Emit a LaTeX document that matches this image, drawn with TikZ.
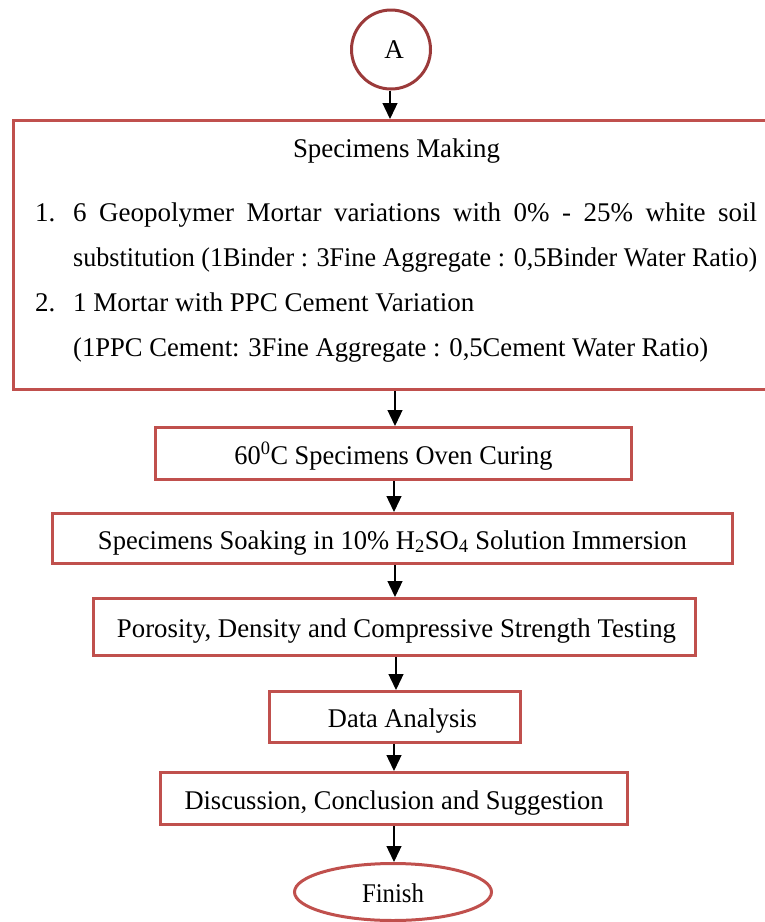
\documentclass[tikz,border=0pt]{standalone}
\usepackage{fontspec}
\setmainfont{Liberation Serif}
\usepackage{graphicx}
\usetikzlibrary{arrows.meta,shapes.geometric}
\definecolor{boxred}{HTML}{C0504D}
\definecolor{circred}{HTML}{9B3A3A}
\newcommand{\fitw}[2]{\resizebox{#1}{\height}{#2}}
\begin{document}
\begin{tikzpicture}[x=1pt,y=-1pt,
  every node/.style={font=\fontsize{27}{31}\selectfont, inner sep=0pt},
  stepbox/.style={draw=boxred, line width=3pt, rectangle, text height=21pt, text depth=0pt, align=center},
  endbox/.style={draw=boxred, line width=3pt, ellipse, text height=21pt, text depth=0pt},
  connbox/.style={draw=circred, line width=3pt, circle},
  arr/.style={-{Triangle[length=16pt,width=15pt]}, line width=1.3pt, black},
  txt/.style={anchor=base west},
  ctxt/.style={anchor=base}]
\useasboundingbox (0,0) rectangle (765,922);
\clip (0,0) rectangle (765,922);

% connector circle
\node[connbox, minimum size=79pt] (A) at (391,49.5) {\hspace*{6pt}A};

% big box
\node[stepbox, minimum width=776.5pt, minimum height=269pt] (big) at (401.75,255) {};
\node[ctxt] (t0) at (396.5,157) {\fitw{207pt}{Specimens Making}};
\node[txt] (n1) at (35,221) {1.};
\node[txt] (l1) at (73,221) {\makebox[684pt][s]{6 Geopolymer Mortar variations with 0\% - 25\% white soil}};
\node[txt] (l2) at (73,266) {\fitw{684pt}{substitution (1Binder : 3Fine Aggregate : 0,5Binder Water Ratio)}};
\node[txt] (n2) at (35,311) {2.};
\node[txt] (l3) at (73,311) {\fitw{401pt}{1 Mortar with PPC Cement Variation}};
\node[txt] (l4) at (73,356) {\fitw{635pt}{(1PPC Cement: 3Fine Aggregate : 0,5Cement Water Ratio)}};

% process boxes
\node[stepbox, minimum width=476pt, minimum height=52pt] (oven) at (393.5,453.5)
  {\fitw{318pt}{60\textsuperscript{0}C Specimens Oven Curing}};
\node[stepbox, minimum width=680pt, minimum height=50pt] (soak) at (392.5,538.5)
  {\fitw{589pt}{Specimens Soaking in 10\% H\textsubscript{2}SO\textsubscript{4} Solution Immersion}};
\node[stepbox, minimum width=602pt, minimum height=57pt] (poro) at (394.5,627)
  {\hspace*{4pt}\fitw{559pt}{Porosity, Density and Compressive Strength Testing}};
\node[stepbox, minimum width=251pt, minimum height=51pt] (data) at (395,717)
  {\hspace*{15pt}\fitw{149pt}{Data Analysis}};
\node[stepbox, minimum width=467pt, minimum height=52pt] (disc) at (394,798.5)
  {\fitw{419pt}{Discussion, Conclusion and Suggestion}};
\node[endbox, minimum width=197pt, minimum height=57pt] (fin) at (393,892)
  {\fitw{62pt}{Finish}};

% column coordinates
\coordinate (c1) at (390,0);
\coordinate (c2) at (395,0);
\coordinate (c3) at (394,0);
\coordinate (c4) at (396,0);

\draw[arr] (A.south -| c1) -- (big.north -| c1);
\draw[arr] (big.south -| c2) -- (oven.north -| c2);
\draw[arr] (oven.south -| c3) -- (soak.north -| c3);
\draw[arr] (soak.south -| c2) -- (poro.north -| c2);
\draw[arr] (poro.south -| c4) -- (data.north -| c4);
\draw[arr] (data.south -| c3) -- (disc.north -| c3);
\draw[arr] (disc.south -| c3) -- (fin.north -| c3);
\end{tikzpicture}
\end{document}
